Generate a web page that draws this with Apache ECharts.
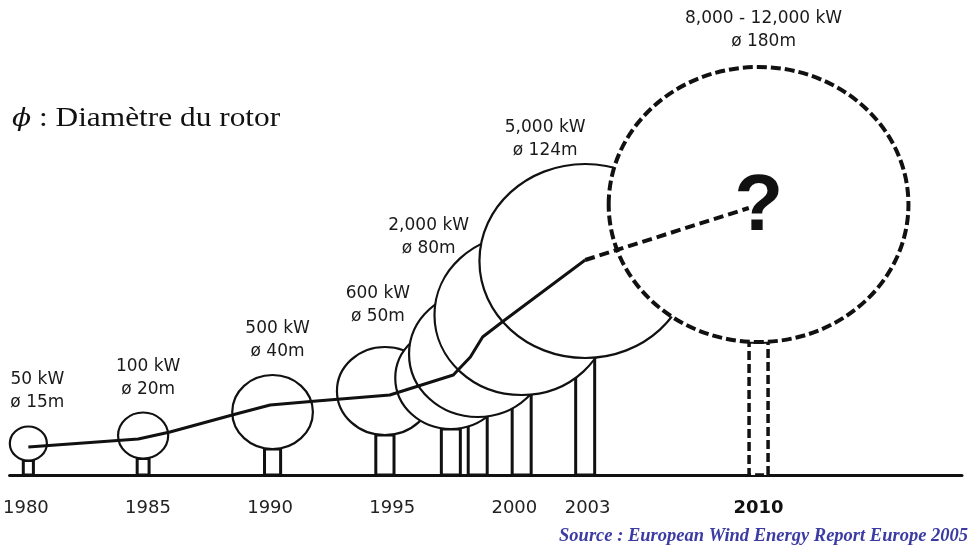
<!DOCTYPE html>
<html>
<head>
<meta charset="utf-8">
<title>Evolution des eoliennes</title>
<script src="https://cdn.jsdelivr.net/npm/echarts@6/dist/echarts.min.js"></script>
<style>
    html, body { margin: 0; padding: 0; background: #fff; }
    #chart { width: 977px; height: 553px; }
</style>
</head>
<body>
<div id="chart"></div>
<script>
// turbines (year, hub height, rotor radius in chart units)
var years = [1980.1, 1984.8, 1990.1, 1994.7, 1997.4, 1998.5, 2000.3, 2002.9, 2010];
var hubHeight = [31.5, 39.5, 63, 84, 97, 121, 160, 214, 270.5];
var rotorRadius = [17, 23, 37, 44, 51, 63, 80, 97, 137.5];
var projected = [0, 0, 0, 0, 0, 0, 0, 0, 1];
var power = ['50 kW', '100 kW', '500 kW', '600 kW', '', '', '2,000 kW', '5,000 kW', '8,000 - 12,000 kW'];
var diameter = ['ø 15m', 'ø 20m', 'ø 40m', 'ø 50m', '', '', 'ø 80m', 'ø 124m', 'ø 180m'];

// trend line
var trendYears = [1980.1, 1984.6, 1985.9, 1988.6, 1990.0, 1991.9, 1994.9, 1997.5, 1998.2, 1998.7, 1999.5, 2002.9];
var trendHeight = [28, 36, 43, 61, 70, 74, 80, 100, 118, 138, 153, 215];
var forecastYears = [2002.9, 2009.6];
var forecastHeight = [215, 267];

var tickYears = [1980, 1985, 1990, 1995, 2000, 2003, 2010];

var chart = echarts.init(document.getElementById('chart'));

// label offsets (px) from the top of each rotor
var labelOffset = {0: [9, -35], 1: [5, -34], 2: [5, -35], 3: [-7, -42], 6: [-93, 2], 7: [-40, -25], 8: [5, -37]};

var turbineData = years.map(function (y, i) {
    return [y, hubHeight[i], rotorRadius[i], projected[i]];
});

var labelData = [];
years.forEach(function (y, i) {
    if (power[i]) {
        labelData.push({
            value: [y, hubHeight[i] + rotorRadius[i], i],
            label: { offset: labelOffset[i] }
        });
    }
});

var option = {
    animation: false,
    title: {
        text: 'Source : European Wind Energy Report Europe 2005',
        right: 4,
        bottom: 2,
        textStyle: {
            fontFamily: 'Liberation Serif',
            fontStyle: 'italic',
            fontWeight: 'bold',
            fontSize: 18.5,
            color: '#3b3ba3'
        }
    },
    graphic: [{
        type: 'text',
        left: 12,
        top: 105,
        scaleX: 1.12,
        style: {
            text: '{p|ϕ} : Diamètre du rotor',
            fontFamily: 'Liberation Serif',
            fontSize: 28,
            fill: '#111',
            rich: {
                p: { fontFamily: 'DejaVu Serif', fontStyle: 'italic', fontSize: 25, fill: '#111' }
            }
        }
    }],
    grid: { left: 5, right: 15, top: 0, bottom: 78 },
    xAxis: {
        type: 'value',
        min: 1979.33,
        max: 2018.33,
        axisLine: { lineStyle: { color: '#111', width: 3 } },
        axisTick: { show: false },
        splitLine: { show: false },
        axisLabel: {
            customValues: tickYears,
            margin: 24,
            formatter: function (v) {
                return v === 2010 ? '{b|' + v + '}' : '{n|' + v + '}';
            },
            rich: {
                n: { fontFamily: 'DejaVu Sans', fontSize: 18, color: '#222' },
                b: { fontFamily: 'DejaVu Sans', fontSize: 18, fontWeight: 'bold', color: '#111' }
            }
        }
    },
    yAxis: { type: 'value', min: 0, max: 475, show: false },
    series: [
        {
            // towers
            type: 'custom',
            z: 2,
            data: turbineData,
            renderItem: function (params, api) {
                var base = api.coord([api.value(0), 0]);
                var top = api.coord([api.value(0), api.value(1) - api.value(2)]);
                var ry = api.size([0, api.value(2)])[1];
                var w = Math.min(19, 5 + ry * 0.3);
                var dashed = api.value(3) === 1;
                return {
                    type: 'rect',
                    shape: { x: base[0] - w / 2, y: top[1], width: w, height: base[1] - top[1] },
                    style: {
                        fill: '#fff',
                        stroke: '#111',
                        lineWidth: dashed ? 3.5 : 3,
                        lineDash: dashed ? [9, 4] : null
                    }
                };
            }
        },
        {
            // rotors
            type: 'custom',
            z: 3,
            data: turbineData,
            renderItem: function (params, api) {
                var c = api.coord([api.value(0), api.value(1)]);
                var ry = api.size([0, api.value(2)])[1];
                var dashed = api.value(3) === 1;
                return {
                    type: 'ellipse',
                    shape: { cx: c[0], cy: c[1], rx: ry * 1.09, ry: ry },
                    style: {
                        fill: '#fff',
                        stroke: '#111',
                        lineWidth: dashed ? 4 : 2.2,
                        lineDash: dashed ? [10, 4] : null
                    }
                };
            }
        },
        {
            type: 'line',
            z: 4,
            showSymbol: false,
            data: trendYears.map(function (y, i) { return [y, trendHeight[i]]; }),
            lineStyle: { color: '#111', width: 3 }
        },
        {
            type: 'line',
            z: 4,
            showSymbol: false,
            data: forecastYears.map(function (y, i) { return [y, forecastHeight[i]]; }),
            lineStyle: { color: '#111', width: 4, type: [10, 5] }
        },
        {
            // power / diameter labels
            type: 'scatter',
            z: 5,
            symbolSize: 1,
            itemStyle: { color: 'transparent', opacity: 1 },
            data: labelData,
            label: {
                show: true,
                position: 'inside',
                align: 'center',
                verticalAlign: 'middle',
                fontFamily: 'DejaVu Sans',
                fontSize: 17,
                lineHeight: 23,
                color: '#1a1a1a',
                formatter: function (p) {
                    var i = p.value[2];
                    return power[i] + '\n' + diameter[i];
                }
            }
        },
        {
            type: 'scatter',
            z: 5,
            symbolSize: 1,
            itemStyle: { color: 'transparent', opacity: 1 },
            data: [[years[8], hubHeight[8]]],
            label: {
                show: true,
                position: 'inside',
                formatter: '?',
                fontFamily: 'Liberation Sans',
                fontWeight: 'bold',
                fontSize: 80,
                color: '#111',
                offset: [0, 3]
            }
        }
    ]
};

chart.setOption(option);
window.addEventListener('resize', chart.resize);
</script>
</body>
</html>
